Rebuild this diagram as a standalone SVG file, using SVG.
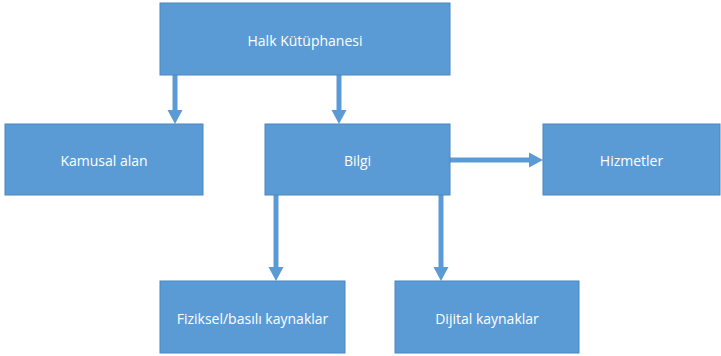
<svg xmlns="http://www.w3.org/2000/svg" width="721" height="356" viewBox="0 0 721 356">
<defs>
<style>
.box{fill:#5B9BD5;stroke:#4A86BE;stroke-width:1}
.lbl{fill:#FFFFFF;font-family:"Open Sans","Liberation Sans",sans-serif;font-size:14px;text-anchor:middle;dominant-baseline:central}
.conn{stroke:#5B9BD5;stroke-width:5;fill:none}
.head{fill:#5B9BD5}
</style>
</defs>
<rect width="721" height="356" fill="#FFFFFF"/>
<g id="connectors">
<line class="conn" x1="175" y1="75" x2="175" y2="112"/>
<polygon class="head" points="167.5,110 182.5,110 175,124"/>
<line class="conn" x1="339" y1="75" x2="339" y2="112"/>
<polygon class="head" points="331.5,110 346.5,110 339,124"/>
<line class="conn" x1="450" y1="160" x2="531" y2="160"/>
<polygon class="head" points="529,152.5 529,167.5 543,160"/>
<line class="conn" x1="276" y1="195" x2="276" y2="269"/>
<polygon class="head" points="268.5,267 283.5,267 276,281"/>
<line class="conn" x1="441" y1="195" x2="441" y2="269"/>
<polygon class="head" points="433.5,267 448.5,267 441,281"/>
</g>
<g id="halk">
<rect class="box" x="160" y="3" width="290" height="72"/>
<text class="lbl" x="305" y="40">Halk Kütüphanesi</text>
</g>
<g id="kamusal">
<rect class="box" x="5" y="124" width="198" height="71"/>
<text class="lbl" x="104" y="160">Kamusal alan</text>
</g>
<g id="bilgi">
<rect class="box" x="265" y="124" width="185" height="71"/>
<text class="lbl" x="357.5" y="160">Bilgi</text>
</g>
<g id="hizmetler">
<rect class="box" x="543" y="124" width="177" height="71"/>
<text class="lbl" x="631.5" y="160">Hizmetler</text>
</g>
<g id="fiziksel">
<rect class="box" x="160" y="281" width="185" height="72"/>
<text class="lbl" x="252.5" y="318">Fiziksel/basılı kaynaklar</text>
</g>
<g id="dijital">
<rect class="box" x="395" y="281" width="184" height="72"/>
<text class="lbl" x="487" y="318">Dijital kaynaklar</text>
</g>
</svg>
